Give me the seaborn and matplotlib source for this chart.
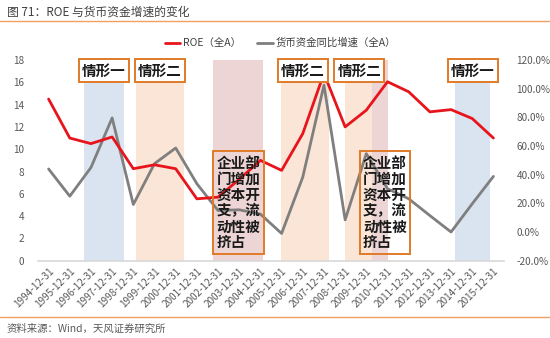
import matplotlib
matplotlib.use("Agg")
import matplotlib.pyplot as plt
import matplotlib.transforms as mtransforms
from matplotlib.lines import Line2D
import seaborn as sns
import pandas as pd

sns.set_theme(style="white")
plt.rcParams['font.family'] = ['Noto Sans CJK SC', 'DejaVu Sans']

dates = [f"{y}-12-31" for y in range(1994, 2016)]
roe = [14.5, 11.0, 10.5, 11.1, 8.25, 8.6, 8.25, 5.55, 5.7, 7.3, 9.0,
       8.1, 11.4, 16.8, 12.0, 13.5, 16.05, 15.15, 13.35, 13.55, 12.75, 11.0]
cash_growth = [44, 25, 45, 79.6, 19.2, 47.7, 58.6, 33.7, 15, 15.5, 12.5,
               -1.0, 38.3, 102.5, 8.5, 54.7, 30.2, 23.2, 11.5, 0.0, 19.7, 38.8]
cash_growth = [v / 100 for v in cash_growth]

roe_name = "ROE（全A）"
cash_name = "货币资金同比增速（全A）"
left_ticks = list(range(0, 20, 2))
right_ticks = [-0.2, 0.0, 0.2, 0.4, 0.6, 0.8, 1.0, 1.2]

# shaded periods (category coordinates)
bands = [(1.69, 3.56, '#DAE3F0'), (4.13, 6.39, '#FBE5D6'), (7.78, 10.12, '#EDD5D5'),
         (10.97, 13.24, '#FBE5D6'), (13.99, 15.27, '#FBE5D6'), (15.27, 16.03, '#EDD5D5'),
         (19.19, 20.84, '#DAE3F0')]
# small labels (x in category coords)
tags = [(2.61, "情形一"), (5.25, "情形二"), (12.01, "情形二"), (14.67, "情形二"), (20.02, "情形一")]
notes = [(8.96, "企业部\n门增加\n资本开\n支，流\n动性被\n挤占"), (15.87, "企业部\n门增加\n资本开\n支，流\n动性被\n挤占")]

df = pd.DataFrame({"date": dates, "roe": roe, "cash": cash_growth, "idx": range(len(dates))})

fig = plt.figure(figsize=(5.5, 3.38), dpi=100)
ax = fig.add_axes([38 / 550, 1 - 260.7 / 338, 466 / 550, 200.7 / 338])
ax2 = ax.twinx()

for x0, x1, c in bands:
    ax2.axvspan(x0, x1, color=c, lw=0, zorder=0)

sns.lineplot(data=df, x="idx", y="cash", ax=ax2, color='#7F7F7F', lw=2, zorder=3, legend=False)
sns.lineplot(data=df, x="idx", y="roe", ax=ax, color='#E8141B', lw=2, zorder=3, legend=False)
ax.set_zorder(ax2.get_zorder() + 1)
ax.patch.set_visible(False)

ax.set_xlim(-0.5, len(dates) - 0.5)
ax2.set_xlim(-0.5, len(dates) - 0.5)
ax.set_ylim(0, 18)
ax2.set_ylim(-0.2, 1.2)
ax.set_yticks(left_ticks)
ax.set_yticklabels([str(t) for t in left_ticks])
ax2.set_yticks(right_ticks)
ax2.set_yticklabels([f"{t*100:.1f}%" for t in right_ticks])
ax.set_xticks(range(len(dates)))
ax.set_xticklabels(dates, rotation=45, ha='right', va='top', rotation_mode='anchor')
ax.set_xlabel("")
ax2.set_xlabel("")
ax.set_ylabel("")
ax2.set_ylabel("")
for a in (ax, ax2):
    for s in a.spines.values():
        s.set_visible(False)
    a.tick_params(length=0, labelsize=7.2, labelcolor='#595959')
ax.spines['bottom'].set_visible(True)
ax.spines['bottom'].set_color('#D9D9D9')
ax.tick_params(axis='x', pad=4)
ax.tick_params(axis='y', pad=10)
ax2.tick_params(axis='y', pad=9)

trans = mtransforms.blended_transform_factory(ax.transData, ax.transAxes)
for x, t in tags:
    ax.text(x, 0.948, t, transform=trans, ha='center', va='center', fontsize=10.5,
            fontweight='bold', color='#1a1a1a', zorder=6,
            bbox=dict(boxstyle='square,pad=0.22', fc='white', ec='#E07B28', lw=1.4))
for x, t in notes:
    ax.text(x, 0.29, t, transform=trans, ha='center', va='center', fontsize=10.5,
            fontweight='bold', color='#1a1a1a', zorder=6, linespacing=1.0,
            multialignment='left',
            bbox=dict(boxstyle='square,pad=0.22', fc='none', ec='#E07B28', lw=1.4))

handles = [Line2D([], [], color='#E8141B', lw=2), Line2D([], [], color='#7F7F7F', lw=2)]
fig.legend(handles, [roe_name, cash_name], loc='center', bbox_to_anchor=(0.51, 1 - 43 / 338),
           ncol=2, frameon=False, fontsize=7.5, handlelength=1.5, handletextpad=0.3,
           columnspacing=1.5, labelcolor='#404040')

fig.text(7 / 550, 1 - 12 / 338, "图 71：ROE 与货币资金增速的变化", fontsize=8.5, color='#404040',
         ha='left', va='center')
fig.add_artist(Line2D([0, 1], [1 - 21 / 338, 1 - 21 / 338], color='#F0A060', lw=1, transform=fig.transFigure))
fig.add_artist(Line2D([0, 1], [1 - 316.5 / 338, 1 - 316.5 / 338], color='#F0A060', lw=1, transform=fig.transFigure))
fig.text(7 / 550, 1 - 329 / 338, "资料来源：Wind，天风证券研究所", fontsize=7.5, color='#595959',
         ha='left', va='center')

fig.savefig("out.png", dpi=100)
